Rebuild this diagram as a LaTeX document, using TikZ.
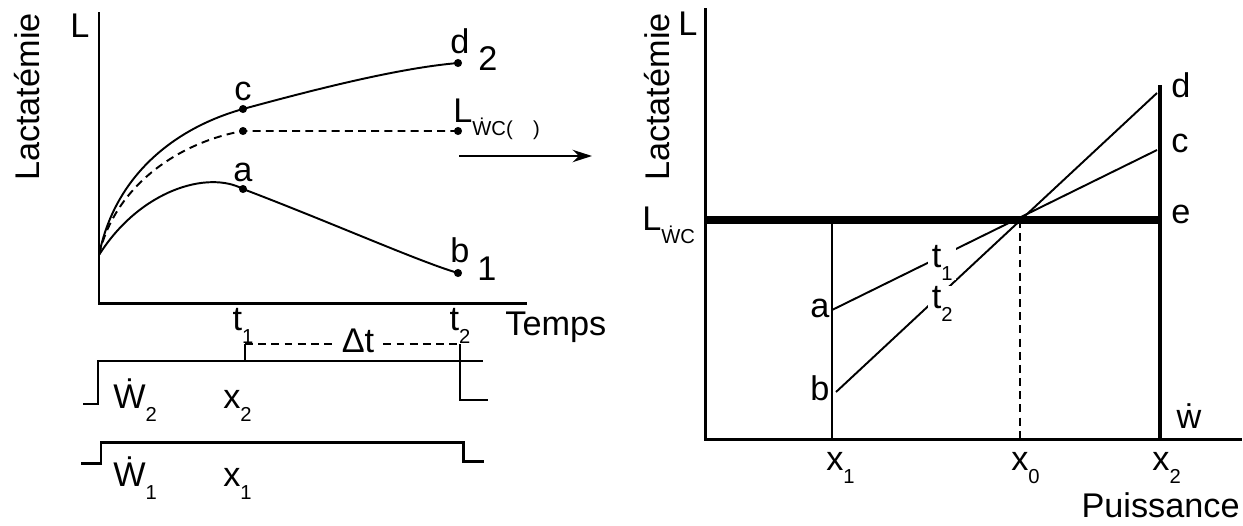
\documentclass[tikz,border=0pt]{standalone}
\usepackage{fontspec}
\setmainfont{Liberation Sans}
\usetikzlibrary{arrows.meta}
\newcommand{\lowsub}[1]{\raisebox{-0.38em}{\fontsize{11.5}{12}\selectfont #1}}
\tikzset{
  lbl/.style={inner sep=0pt, font=\fontsize{19.5}{23}\selectfont},
  axe/.style={line width=1.7pt},
  courbe/.style={line width=1.1pt},
  pt/.style={circle, fill=black, inner sep=0pt, minimum size=4.6pt},
  tiret/.style={dash pattern=on 4.5pt off 3pt},
}

\begin{document}
\begin{tikzpicture}[x=0.02cm, y=-0.02cm]
	\useasboundingbox (0,0) rectangle (1243,525);
	% graphe gauche : lactatemie en fonction du temps
	\coordinate (Lhaut) at (99,12);
	\coordinate (Lorig) at (99,303);
	\coordinate (Ldroit) at (527,303);
	\draw[axe] (Lhaut) -- (Lorig) -- (Ldroit);
	\node[lbl, anchor=base] (L) at (80,37) {L};
	\node[lbl, rotate=90] (lact) at (27,97) {Lactatémie};
	\coordinate (s) at (99,255);
	\node[pt] (c) at (243,109) {};
	\node[pt] (d) at (458,63) {};
	\node[pt] (a) at (243,189) {};
	\node[pt] (b) at (458,273) {};
	\node[pt] (cw) at (243,131) {};
	\node[pt] (dw) at (458,131) {};
	\draw[courbe] (s) .. controls (115,175) and (175,128) .. (c.center)
		.. controls (320,88) and (400,68) .. (d.center);
	\draw[courbe, tiret] (s) .. controls (115,185) and (180,142) .. (cw.center) -- (dw.center);
	\draw[courbe] (s) .. controls (140,190) and (208,170) .. (a.center)
		.. controls (330,222) and (420,262) .. (b.center);
	\node[lbl, anchor=base] (lc) at (243,100) {c};
	\node[lbl, anchor=base] (la) at (243,181) {a};
	\node[lbl, anchor=base] (ld) at (460,53) {d};
	\node[lbl, anchor=base] (lb) at (460,262) {b};
	\node[lbl, anchor=base] (n2) at (488,70) {2};
	\node[lbl, anchor=base] (n1) at (487,280) {1};
	\node[lbl, anchor=base west] (Lwc) at (453,122) {L\lowsub{\.WC(\quad)}};
	\coordinate (fl1) at (459,156);
	\coordinate (fl2) at (592,156);
	\draw[line width=1.4pt, -{Stealth[length=11pt,width=7pt]}] (fl1) -- (fl2);
	\node[lbl, anchor=base] (t1) at (243,330) {t\lowsub{1}};
	\node[lbl, anchor=base] (t2) at (460,330) {t\lowsub{2}};
	\node[lbl, anchor=base west] (temps) at (505,335) {Temps};
	% creneaux de puissance
	\node[lbl, anchor=base, inner xsep=5pt] (dt) at (358,352) {Δt};
	\coordinate (t1b) at (245,361);
	\coordinate (t1h) at (245,344);
	\coordinate (t2h) at (460,344);
	\coordinate (t2b) at (460,400);
	\draw[courbe] (83,404) -- (98,404) -- (98,361) -- (483,361);
	\draw[courbe] (t1b) -- (t1h);
	\draw[courbe, tiret] (t1h) -- (t1h -| dt.west);
	\draw[courbe, tiret] (t2h -| dt.east) -- (t2h);
	\draw[courbe] (t2h) -- (t2b) -- (488,400);
	\draw[axe] (81,463) -- (101,463) -- (101,442) -- (463,442) -- (463,461) -- (484,461);
	\node[lbl, anchor=base west] (W2) at (113,408) {\.W\lowsub{2}};
	\node[lbl, anchor=base west] (x2g) at (223,408) {x\lowsub{2}};
	\node[lbl, anchor=base west] (W1) at (113,486) {\.W\lowsub{1}};
	\node[lbl, anchor=base west] (x1g) at (223,486) {x\lowsub{1}};
	% graphe droit : lactatemie en fonction de la puissance
	\coordinate (Rhaut) at (705,8);
	\coordinate (Rorig) at (705,439);
	\coordinate (Rdroit) at (1242,439);
	\draw[axe] (Rhaut) -- (Rorig) -- (Rdroit);
	\node[lbl, anchor=base] (LR) at (688,35) {L};
	\node[lbl, rotate=90] (lactR) at (657,97) {Lactatémie};
	\coordinate (eR) at (1160,220);
	\coordinate (x2h) at (1160,85);
	\coordinate (x2b) at (1160,439);
	\coordinate (x1h) at (832,220);
	\coordinate (x1b) at (832,439);
	\coordinate (x0h) at (1020,220);
	\coordinate (x0b) at (1020,439);
	\coordinate (dR) at (1157,93);
	\coordinate (cR) at (1157,150);
	\coordinate (aR) at (832,310);
	\coordinate (bR) at (836,392);
	\draw[line width=4pt] (705,220) -- (eR);
	\draw[line width=2pt] (x2h) -- (x2b);
	\draw[courbe] (x1h) -- (x1b);
	\draw[courbe, tiret] (x0h) -- (x0b);
	\draw[courbe] (dR) -- (bR);
	\draw[courbe] (cR) -- (aR);
	\node[lbl, anchor=base west, fill=white, inner xsep=2pt] (t1R) at (928,267) {t\lowsub{1}};
	\node[lbl, anchor=base west, fill=white, inner xsep=2pt] (t2R) at (928,308) {t\lowsub{2}};
	\node[lbl, anchor=base west] (LwcR) at (642,230) {L\lowsub{\.WC}};
	\node[lbl, anchor=base west] (ldR) at (1171,97) {d};
	\node[lbl, anchor=base west] (lcR) at (1171,152) {c};
	\node[lbl, anchor=base west] (leR) at (1171,223) {e};
	\node[lbl, anchor=base west] (laR) at (810,317) {a};
	\node[lbl, anchor=base west] (lbR) at (810,400) {b};
	\node[lbl, anchor=base] (wR) at (1189,428) {\.w};
	\node[lbl, anchor=base west] (x1R) at (826,470) {x\lowsub{1}};
	\node[lbl, anchor=base west] (x0R) at (1011,470) {x\lowsub{0}};
	\node[lbl, anchor=base west] (x2R) at (1152,470) {x\lowsub{2}};
	\node[lbl, anchor=base east] (puis) at (1240,517) {Puissance};
\end{tikzpicture}
\end{document}
